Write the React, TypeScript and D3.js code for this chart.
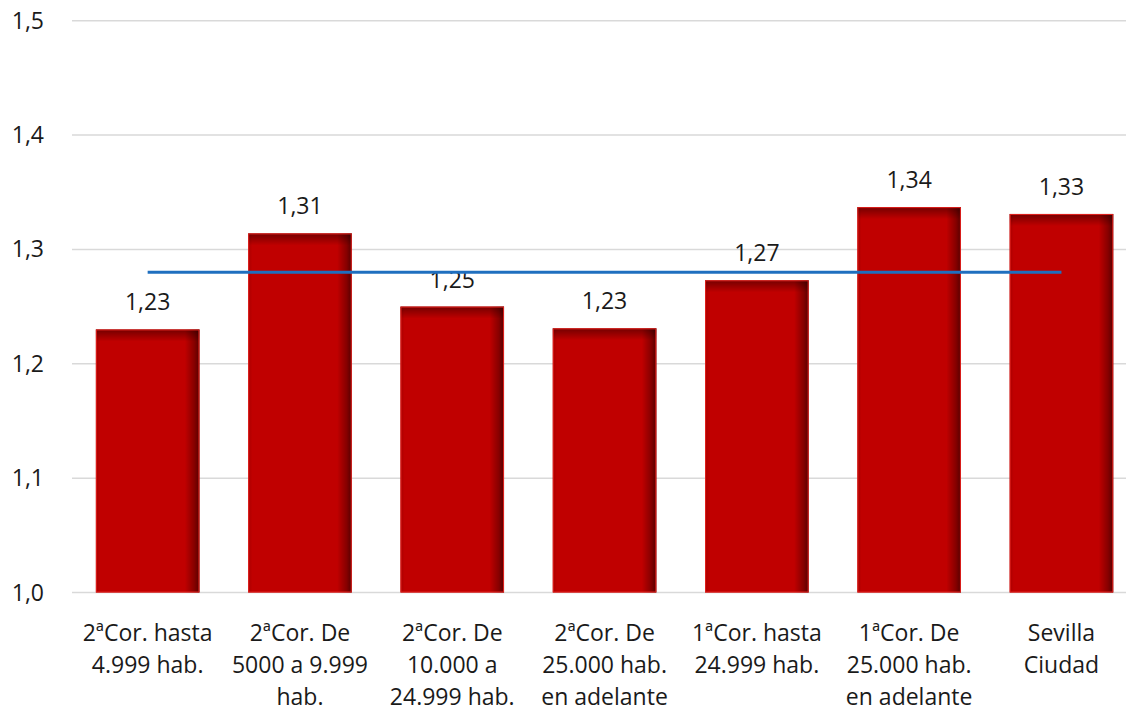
import React from "react";
import * as d3 from "d3";

const categories: string[][] = [
  ["2ªCor. hasta", "4.999 hab."],
  ["2ªCor. De", "5000 a 9.999", "hab."],
  ["2ªCor. De", "10.000 a", "24.999 hab."],
  ["2ªCor. De", "25.000 hab.", "en adelante"],
  ["1ªCor. hasta", "24.999 hab."],
  ["1ªCor. De", "25.000 hab.", "en adelante"],
  ["Sevilla", "Ciudad"],
];
const values: number[] = [1.23, 1.314, 1.25, 1.231, 1.273, 1.337, 1.331];
const labels: string[] = ["1,23", "1,31", "1,25", "1,23", "1,27", "1,34", "1,33"];
const average = 1.28;
const yTicks: number[] = [1.0, 1.1, 1.2, 1.3, 1.4, 1.5];

const W = 1126;
const H = 716;
const font = "'Open Sans', 'Noto Sans', sans-serif";

export default function App() {
  const x = d3
    .scaleBand<number>()
    .domain(d3.range(categories.length))
    .range([71.5, 71.5 + 7 * 152.3])
    .paddingInner(0.32)
    .paddingOuter(0.16);
  const y = d3.scaleLinear().domain([1.0, 1.5]).range([592.5, 20.7]);
  const bw = x.bandwidth();
  const cx = (i: number) => (x(i) as number) + bw / 2;
  const fmt = (v: number) => v.toFixed(1).replace(".", ",");
  const line = d3
    .line<number>()
    .x((d) => d)
    .y(() => y(average));

  return (
    <svg
      width={W}
      height={H}
      style={{ position: "absolute", left: 0, top: 0, background: "#fff" }}
    >
      <defs>
        <linearGradient id="hshade" x1="0" x2="1" y1="0" y2="0">
          <stop offset="0" stopColor="#000" stopOpacity="0.12" />
          <stop offset="0.04" stopColor="#000" stopOpacity="0" />
          <stop offset="0.86" stopColor="#000" stopOpacity="0" />
          <stop offset="0.95" stopColor="#000" stopOpacity="0.3" />
          <stop offset="1" stopColor="#000" stopOpacity="0.55" />
        </linearGradient>
        <linearGradient id="vshade" x1="0" x2="0" y1="0" y2="1">
          <stop offset="0" stopColor="#000" stopOpacity="0.4" />
          <stop offset="1" stopColor="#000" stopOpacity="0" />
        </linearGradient>
      </defs>
      {yTicks.map((t) => (
        <g key={t}>
          <line x1={72} x2={W} y1={y(t)} y2={y(t)} stroke="#d9d9d9" strokeWidth={1.5} />
          <text
            x={44}
            y={y(t)}
            dy="0.35em"
            textAnchor="end"
            fontFamily={font}
            fontSize={23}
            fill="#1a1a1a"
          >
            {fmt(t)}
          </text>
        </g>
      ))}
      {values.map((v, i) => {
        const x0 = x(i) as number;
        const y0 = y(v);
        const h = y(1.0) - y0;
        return (
          <g key={i}>
            <rect x={x0} y={y0} width={bw} height={h} fill="#C00000" />
            <rect x={x0} y={y0} width={bw} height={h} fill="url(#hshade)" />
            <rect x={x0} y={y0} width={bw} height={Math.min(12, h)} fill="url(#vshade)" />
            <rect
              x={x0 + 0.5}
              y={y0 + 0.5}
              width={bw - 1}
              height={h - 1}
              fill="none"
              stroke="#E0201C"
              strokeWidth={1}
            />
            <text
              x={cx(i)}
              y={y0 - 19}
              textAnchor="middle"
              fontFamily={font}
              fontSize={23}
              fill="#1a1a1a"
            >
              {labels[i]}
            </text>
            {categories[i].map((ln, k) => (
              <text
                key={k}
                x={cx(i)}
                y={633 + k * 32}
                dy="0.35em"
                textAnchor="middle"
                fontFamily={font}
                fontSize={23}
                fill="#1a1a1a"
              >
                {ln}
              </text>
            ))}
          </g>
        );
      })}
      <path
        d={line([cx(0), cx(values.length - 1)]) || ""}
        stroke="#1F6FBF"
        strokeWidth={3}
        fill="none"
      />
    </svg>
  );
}
